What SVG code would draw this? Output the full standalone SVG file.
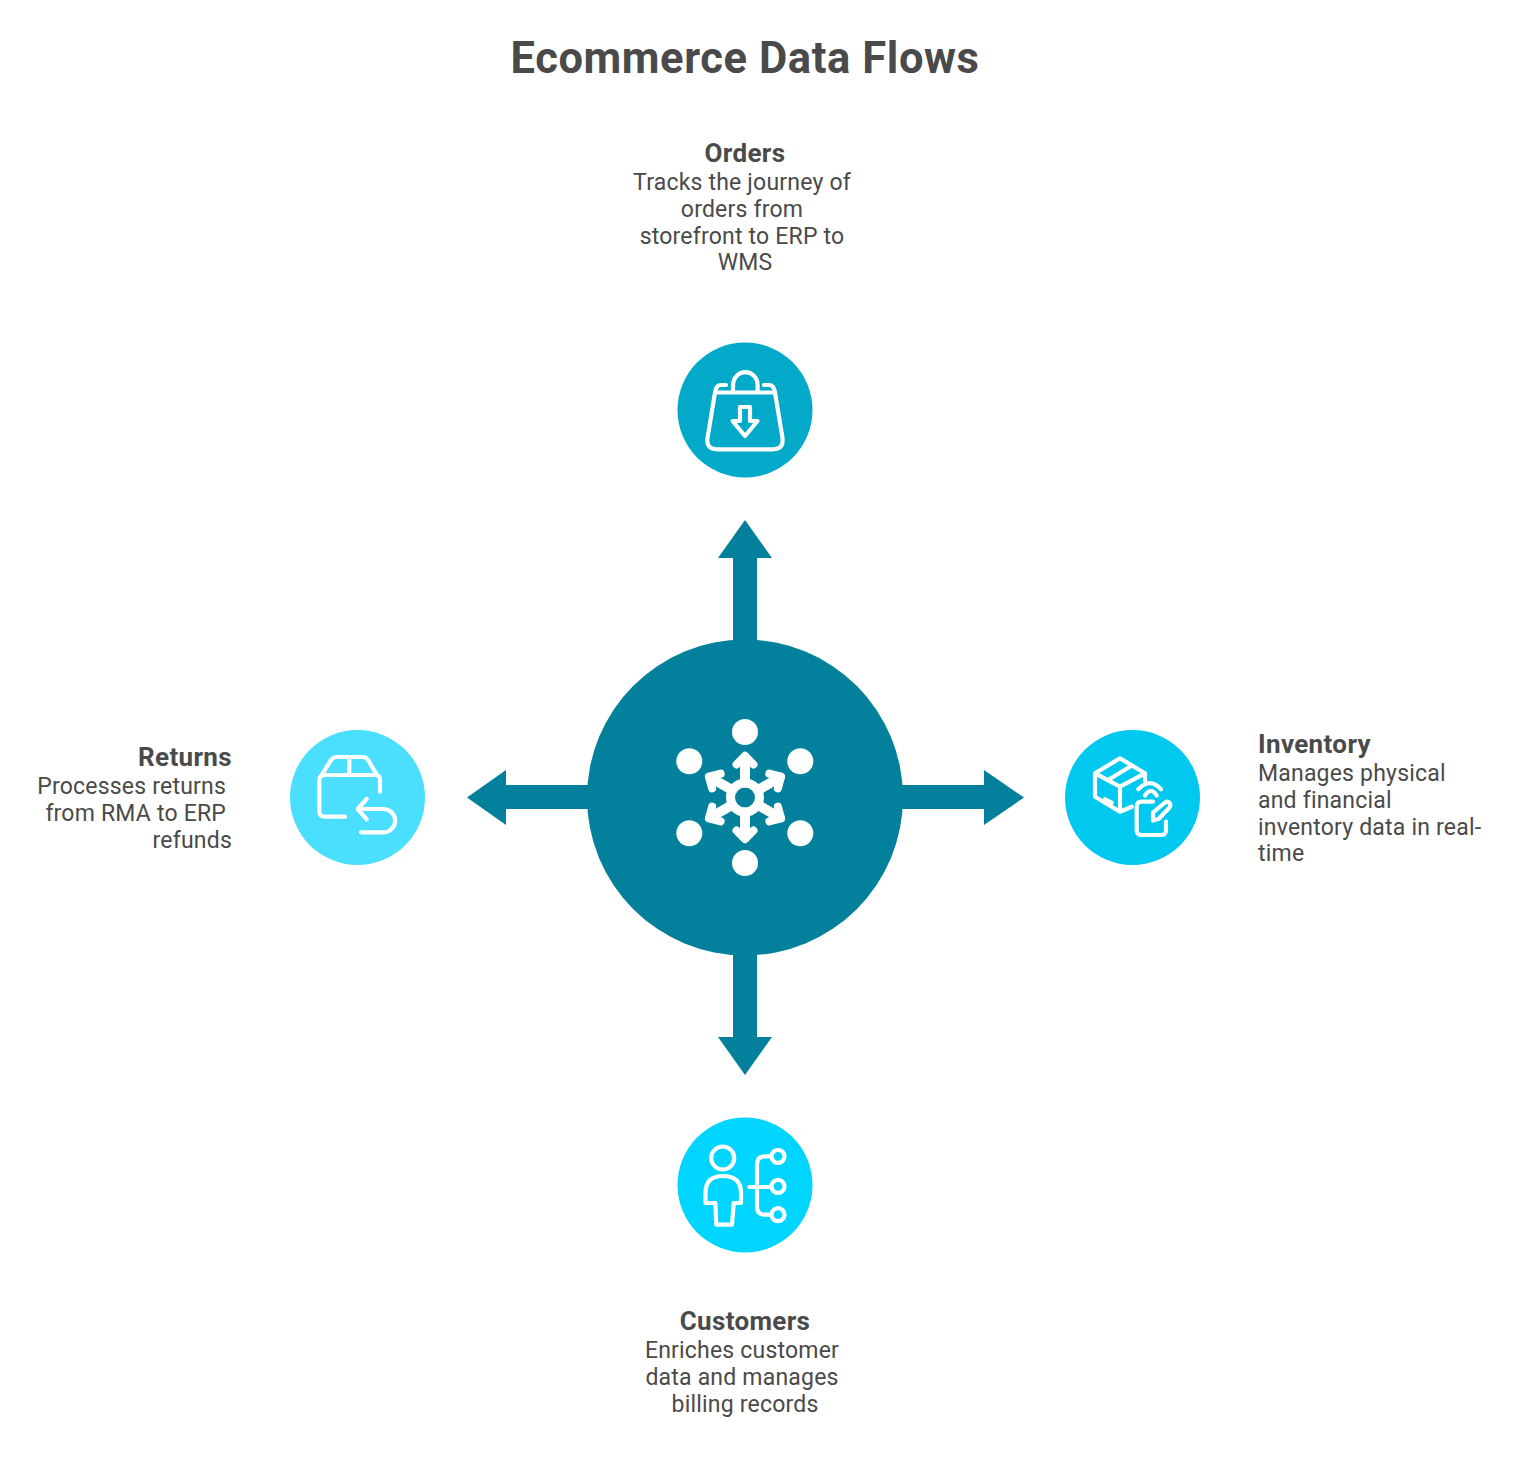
<svg xmlns="http://www.w3.org/2000/svg" xmlns:xlink="http://www.w3.org/1999/xlink" width="1520" height="1457" viewBox="0 0 1520 1457">
<style>
text{font-family:Roboto,"Liberation Sans",sans-serif;fill:#4a4a4a}
.t{font-size:43.500px;font-weight:700;text-anchor:middle;letter-spacing:.59px}
.h{font-size:26px;font-weight:700;letter-spacing:.35px}
.b{font-size:23px;letter-spacing:.2px}
.m{text-anchor:middle}.e{text-anchor:end}
.i{fill:none;stroke:#fff;stroke-width:4.200;stroke-linecap:round;stroke-linejoin:round}
.c{fill:#02809c}
</style>
<rect width="1520" height="1457" fill="#fff"/>
<text class="t" x="745" y="73">Ecommerce Data Flows</text>
<g id="connectors">
<path class="c" d="M733 645V558H718L745 520L772 558H757V645Z"/>
<path class="c" d="M733 950V1037H718L745 1075L772 1037H757V950Z"/>
<path class="c" d="M595 785H506V770L467 797.500L506 825V809H595Z"/>
<path class="c" d="M895 785H984V770L1024 797.500L984 825V809H895Z"/>
</g>
<g id="hub">
<circle class="c" cx="745" cy="797.500" r="158"/>
<g fill="#fff">
<circle cx="745" cy="732" r="13"/><circle cx="689.300" cy="761.300" r="13"/><circle cx="800.300" cy="761.300" r="13"/>
<circle cx="689.300" cy="833.300" r="13"/><circle cx="800.300" cy="833.300" r="13"/><circle cx="745" cy="863" r="13"/>
</g>
<g transform="translate(745 797.500)">
<defs><g id="sp" fill="none" stroke="#fff" stroke-linecap="round" stroke-linejoin="round"><path d="M0 -15V-40" stroke-width="10"/><path d="M-8.500 -33L0 -41.700L8.500 -33" stroke-width="8"/></g></defs>
<use xlink:href="#sp" href="#sp"/><use xlink:href="#sp" href="#sp" transform="rotate(60)"/><use xlink:href="#sp" href="#sp" transform="rotate(120)"/>
<use xlink:href="#sp" href="#sp" transform="rotate(180)"/><use xlink:href="#sp" href="#sp" transform="rotate(240)"/><use xlink:href="#sp" href="#sp" transform="rotate(300)"/>
<circle r="14.500" fill="none" stroke="#fff" stroke-width="9"/>
</g>
</g>
<g id="orders">
<circle cx="745" cy="410" r="67.500" fill="#02a9c9"/>
<g class="i">
<path d="M733 392V385A12.300 13 0 0 1 757.600 385V392"/>
<path d="M726 385H721Q716 385 715 392.500M764 385H769Q774 385 775 392.500M715 392.500H775"/>
<path d="M715 392.500L707.500 438Q706 449.300 717 449.300H773Q784 449.300 782.500 438L775 392.500"/>
<path d="M740 407H750V421H757.500L745 436L732.500 421H740Z"/>
</g>
<text class="h m" x="745" y="162">Orders</text>
<text class="b m" x="742" y="190">Tracks the journey of</text>
<text class="b m" x="742" y="217">orders from</text>
<text class="b m" x="742" y="244">storefront to ERP to</text>
<text class="b m" x="745" y="270">WMS</text>
</g>
<g id="inventory">
<circle cx="1132.500" cy="797.500" r="67.500" fill="#00c8ef"/>
<g class="i">
<path d="M1095 773.300L1120 758.300L1145 773.300V780.700M1095 773.300V796.700L1120 811.700L1131.700 806.700M1095 773.300L1120 786.700L1145 773.300M1108 780L1132 765.500M1120 786.700V811.700M1105 799.300L1111.700 802.700"/>
<path d="M1138.300 789.300Q1150 777 1161 789.300M1145 795.500Q1151 786.500 1156.700 795.500"/>
<path d="M1153 801.700H1141.700Q1136.700 801.700 1136.700 806.700V830Q1136.700 835 1141.700 835H1161Q1166 835 1166 830V821.700"/>
<path d="M1153 820.500L1153 812.500L1165 802.500Q1168 800.500 1170 803.500Q1171 806 1169 808L1158.500 819Z"/>
</g>
<text class="h" x="1258" y="753">Inventory</text>
<text class="b" x="1258" y="781">Manages physical</text>
<text class="b" x="1258" y="808">and financial</text>
<text class="b" x="1258" y="835">inventory data in real-</text>
<text class="b" x="1258" y="861">time</text>
</g>
<g id="returns">
<circle cx="357.500" cy="797.500" r="67.500" fill="#4adfff"/>
<g class="i">
<path d="M345 816.700H325Q319.300 816.700 319.300 811V780Q319.300 775 325 775H375Q380 775 380 780V791.700"/>
<path d="M321.700 775L331 760Q333 757 337 757H363Q366 757 368 760L377 775M349.300 757V775"/>
<path d="M366.700 799L357.700 809L366.700 819.300M357.700 809H383.500A11.650 11.650 0 0 1 383.500 832.300H361"/>
</g>
<text class="h e" x="232" y="766">Returns</text>
<text class="b e" x="226" y="794">Processes returns</text>
<text class="b e" x="226" y="821">from RMA to ERP</text>
<text class="b e" x="232" y="848">refunds</text>
</g>
<g id="customers">
<circle cx="745" cy="1185" r="67.500" fill="#00d5ff"/>
<g class="i">
<circle cx="722.700" cy="1158" r="11.500"/>
<path d="M715.300 1203H705.500V1193Q705.500 1176 723 1176Q741 1176 741 1193V1203H733.700L732 1224.700H716.300Z"/>
<path d="M749.300 1187H772M770.300 1156.300H765Q757 1156.300 757 1164.300V1206.700Q757 1214.700 765 1214.700H770.300"/>
<circle cx="778" cy="1156.300" r="6.500"/><circle cx="778" cy="1186.300" r="6.500"/><circle cx="778" cy="1214.700" r="6.500"/>
</g>
<text class="h m" x="745" y="1330">Customers</text>
<text class="b m" x="742" y="1358">Enriches customer</text>
<text class="b m" x="742" y="1385">data and manages</text>
<text class="b m" x="745" y="1412">billing records</text>
</g>
</svg>
